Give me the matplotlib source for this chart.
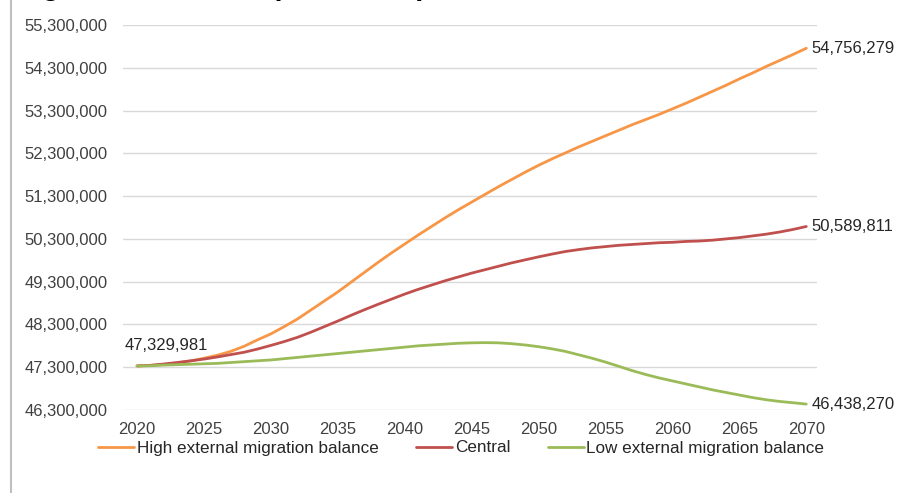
import matplotlib
matplotlib.use("Agg")
import matplotlib.pyplot as plt
from matplotlib.lines import Line2D
from matplotlib.ticker import FuncFormatter
import numpy as np

plt.rcParams['font.family'] = ['Liberation Sans', 'DejaVu Sans']

# population projections, millions of residents
years = list(range(2020, 2071))

high = [47.329981, 47.340, 47.365, 47.400, 47.445, 47.510, 47.580, 47.670, 47.790, 47.940,
        48.080, 48.250, 48.430, 48.640, 48.850, 49.060, 49.290, 49.520, 49.750, 49.970,
        50.180, 50.390, 50.590, 50.790, 50.980, 51.160, 51.340, 51.520, 51.690, 51.860,
        52.020, 52.170, 52.310, 52.450, 52.580, 52.710, 52.840, 52.970, 53.090, 53.210,
        53.340, 53.470, 53.610, 53.750, 53.890, 54.040, 54.180, 54.330, 54.470, 54.610,
        54.756279]

central = [47.329981, 47.345, 47.375, 47.410, 47.450, 47.490, 47.540, 47.595, 47.650, 47.725,
           47.810, 47.900, 48.000, 48.120, 48.250, 48.380, 48.515, 48.645, 48.770, 48.890,
           49.010, 49.120, 49.220, 49.320, 49.410, 49.500, 49.580, 49.660, 49.740, 49.810,
           49.880, 49.945, 50.005, 50.050, 50.090, 50.120, 50.150, 50.170, 50.190, 50.210,
           50.220, 50.240, 50.250, 50.270, 50.300, 50.330, 50.370, 50.410, 50.460, 50.520,
           50.589811]

low = [47.329981, 47.335, 47.350, 47.360, 47.370, 47.380, 47.390, 47.410, 47.430, 47.450,
       47.470, 47.500, 47.530, 47.560, 47.590, 47.620, 47.650, 47.680, 47.710, 47.740,
       47.770, 47.800, 47.820, 47.840, 47.860, 47.870, 47.875, 47.870, 47.850, 47.820,
       47.780, 47.730, 47.670, 47.590, 47.510, 47.420, 47.320, 47.220, 47.130, 47.050,
       46.980, 46.910, 46.840, 46.770, 46.710, 46.650, 46.590, 46.540, 46.500, 46.470,
       46.438270]

series_names = ['High external migration balance', 'Central', 'Low external migration balance']
series_colors = ['#F79646', '#C0504D', '#9BBB59']

fig = plt.figure(figsize=(9.01, 4.93), dpi=100)
ax = fig.add_axes([123 / 901, 1 - 410 / 493, (817 - 123) / 901, (410 - 25) / 493])

yrs = np.array(years)
for name, vals, col in zip(series_names, [high, central, low], series_colors):
    ax.plot(yrs, np.array(vals) * 1e6, color=col, lw=2.0, label=name, solid_capstyle='round')

ax.set_xlim(2018.95, 2070.8)
ax.set_ylim(46.3e6, 55.3e6)
ax.set_xticks(range(2020, 2071, 5))
ax.set_yticks(np.arange(46.3e6, 55.31e6, 1e6))
ax.yaxis.set_major_formatter(FuncFormatter(lambda v, p: f'{v:,.0f}'))
ax.tick_params(length=0, labelsize=12, labelcolor='#404040')
ax.tick_params(axis='y', pad=11)
ax.tick_params(axis='x', pad=8.5)
ax.grid(axis='y', color='#D9D9D9', lw=1)
ax.set_axisbelow(True)
for s in ax.spines.values():
    s.set_visible(False)

# value labels at the start and end of each series
ax.annotate(f'{high[0] * 1e6:,.0f}', (years[0], high[0] * 1e6), xytext=(21, 14.5),
            textcoords='offset points', ha='center', va='center', fontsize=12, color='#262626')
for vals in [high, central, low]:
    ax.annotate(f'{vals[-1] * 1e6:,.0f}', (years[-1], vals[-1] * 1e6), xytext=(4, 0),
                textcoords='offset points', ha='left', va='center', fontsize=12,
                color='#262626', annotation_clip=False)

fig.legend(loc='center', bbox_to_anchor=(0.512, 1 - 448 / 493), ncol=3, frameon=False,
           fontsize=12.3, handlelength=2.1, handletextpad=0.15, columnspacing=2.2,
           labelcolor='#262626')

# frame line on the left and the title cut by the top edge
fig.add_artist(Line2D([11 / 901, 11 / 901], [0, 1], transform=fig.transFigure,
                      color='#BFBFBF', lw=1.5))
fig.text(17 / 901, 1 + 5 / 493, 'Figure 1. Resident (2020-2070)', fontsize=20.5,
         fontweight='bold', ha='left', va='baseline', color='black')

fig.savefig('out.png', dpi=100)
